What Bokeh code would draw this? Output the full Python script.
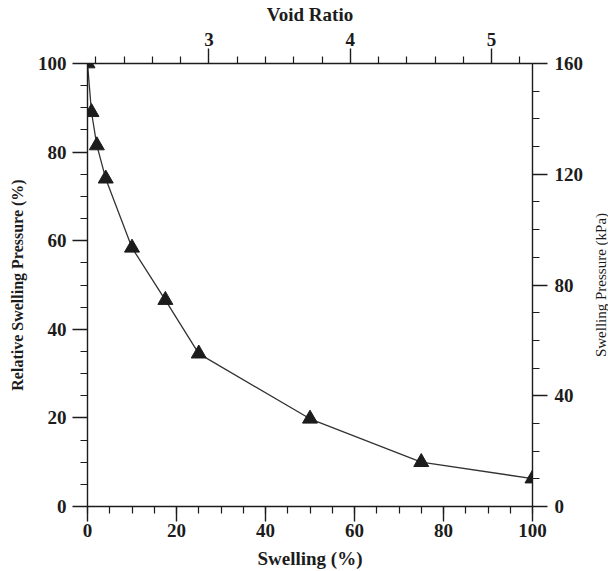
import math
from bokeh.plotting import figure
from bokeh.models import Range1d, LinearAxis, FixedTicker, SingleIntervalTicker, Label
from bokeh.embed import file_html
from bokeh.resources import INLINE

# Swelling test results
swelling_pct = [0.0, 0.9, 2.1, 4.1, 10.0, 17.5, 25.0, 50.0, 75.0, 100.0]
relative_pressure_pct = [100.0, 89.0, 81.5, 74.0, 58.4, 46.6, 34.5, 19.8, 10.0, 6.3]

# Secondary scales
max_pressure_kpa = 160
void_ratio_range = [2.14, 5.29]
void_ratio_ticks = [3, 4, 5]
void_ratio_minor = [2.2, 2.4, 2.6, 2.8, 3.2, 3.4, 3.6, 3.8,
                    4.2, 4.4, 4.6, 4.8, 5.2]

FONT = "Liberation Serif"
INK = "#1c1c1c"

p = figure(width=608, height=571, output_backend="svg", toolbar_location=None,
           x_range=Range1d(0, 100), y_range=Range1d(0, 100),
           min_border_left=87, min_border_right=76,
           min_border_top=63, min_border_bottom=64)
p.outline_line_color = None
p.grid.visible = False
p.background_fill_color = "white"
p.border_fill_color = "white"

p.extra_y_ranges = {"kpa": Range1d(0, max_pressure_kpa)}
p.extra_x_ranges = {"void": Range1d(*void_ratio_range)}

bottom = p.below[0]
left = p.left[0]
right = LinearAxis(y_range_name="kpa",
                   ticker=SingleIntervalTicker(interval=40, num_minor_ticks=4))
top = LinearAxis(x_range_name="void", axis_label="Void Ratio",
                 ticker=FixedTicker(ticks=void_ratio_ticks, minor_ticks=void_ratio_minor))
p.add_layout(right, "right")
p.add_layout(top, "above")

bottom.ticker = SingleIntervalTicker(interval=20, num_minor_ticks=4)
left.ticker = SingleIntervalTicker(interval=20, num_minor_ticks=4)
bottom.axis_label = "Swelling (%)"
left.axis_label = "Relative Swelling Pressure (%)"

for ax in (bottom, left, right, top):
    ax.axis_line_color = INK
    ax.axis_line_width = 1.4
    ax.major_tick_line_color = INK
    ax.major_tick_line_width = 1.4
    ax.minor_tick_line_color = INK
    ax.minor_tick_line_width = 1.2
    ax.major_tick_in = 0
    ax.major_tick_out = 15
    ax.minor_tick_in = 0
    ax.minor_tick_out = 7
    ax.major_label_text_font = FONT
    ax.major_label_text_font_style = "bold"
    ax.major_label_text_font_size = "19px"
    ax.major_label_text_color = INK
    ax.axis_label_text_font = FONT
    ax.axis_label_text_color = INK
    ax.axis_label_text_font_size = "19px"
    ax.axis_label_text_font_style = "bold"
    ax.major_label_standoff = 5

bottom.major_label_standoff = 2
bottom.axis_label_standoff = 8
top.major_label_standoff = 3
top.axis_label_standoff = 5
left.axis_label_text_font_size = "16px"
left.axis_label_standoff = 9
left.major_label_standoff = 6
right.major_label_standoff = 7

# right-hand title, reading bottom to top, kept in the side panel beyond the kPa labels
p.add_layout(Label(x=115.3, y=50, text="Swelling Pressure (kPa)", angle=math.pi / 2,
                   text_align="center", text_baseline="middle",
                   text_font=FONT, text_font_size="15px", text_color=INK), "right")

p.line(swelling_pct, relative_pressure_pct, line_color="#333333", line_width=1.3)
p.scatter(swelling_pct, relative_pressure_pct, marker="triangle", size=15,
          fill_color=INK, line_color=INK)

open("out.html", "w").write(file_html(p, INLINE))
